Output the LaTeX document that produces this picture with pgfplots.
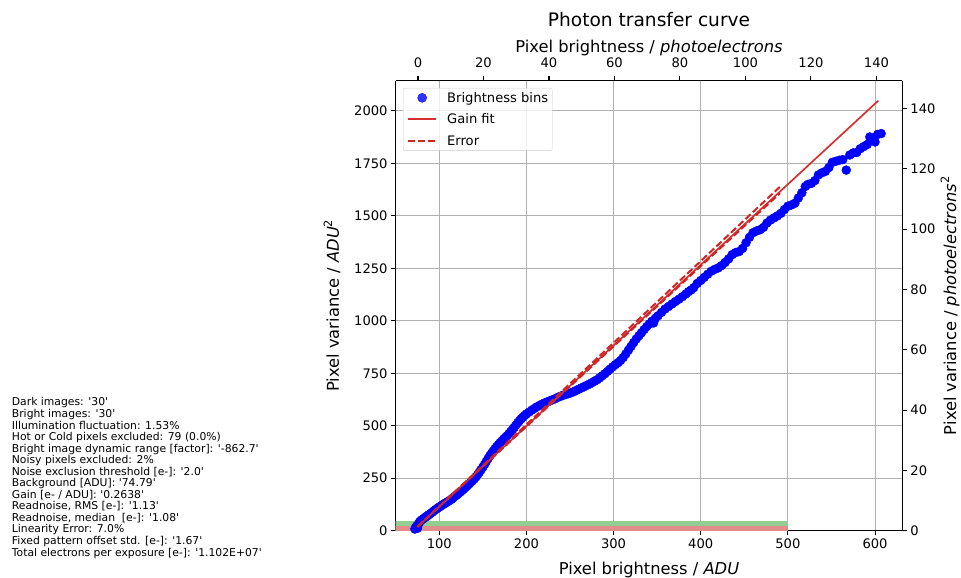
\documentclass[border=0pt]{standalone}
\usepackage{fontspec}
\setmainfont{DejaVu Sans}[Ligatures=TeXOff]
\usepackage{pgfplots}
\usepackage{pgfplotstable}
\pgfplotsset{compat=1.18}

\definecolor{binblue}{RGB}{0,0,255}
\definecolor{fitred}{RGB}{214,48,48}
\definecolor{errred}{RGB}{206,36,36}
\definecolor{gridgray}{RGB}{176,176,176}
\definecolor{bandgreen}{RGB}{146,206,146}
\definecolor{bandred}{RGB}{226,140,140}

\newcommand{\tickfont}{\fontsize{13.1}{15}\selectfont}
\newcommand{\labelfont}{\fontsize{16.3}{19}\selectfont}
\newcommand{\sq}[1]{\raisebox{0.42em}{\fontsize{11.4}{12}\selectfont #1}}

\pgfplotsset{
  dotlegend/.style={legend image code/.code={\fill[binblue] (14pt,0pt) circle[radius=4.5pt];}},
  fitlegend/.style={legend image code/.code={\draw[fitred, line width=2pt] (0pt,0.4pt) -- (28pt,0.4pt);}},
  errlegend/.style={legend image code/.code={\draw[errred, line width=2pt, dash pattern=on 7pt off 3pt] (0pt,0pt) -- (28pt,0pt);}},
}

% brightness bins: mean signal [ADU] and variance [ADU^2]
\pgfplotstableread{
adu var
72 8
73 15
74 22
75 12
76 30
77 38
78 45
80 52
82 58
84 64
86 70
88 76
90 82
92 88
94 95
96 101
98 107
100 113
102 118
104 124
106 129
108 134
110 139
112 144
114 150
116 157
118 164
120 170
122 177
124 184
126 191
128 198
130 206
132 214
134 222
136 230
138 238
140 246
142 256
144 267
146 279
148 291
150 303
152 316
154 330
156 344
158 357
160 369
162 380
164 391
166 401
168 411
170 420
172 428
174 437
176 445
178 453
180 462
182 472
184 482
186 492
188 503
190 514
192 524
194 533
196 541
198 549
200 556
203 565
206 574
209 582
212 590
215 597
218 603
221 609
224 614
227 619
230 624
233 629
236 635
239 640
242 645
245 649
248 653
251 657
254 662
257 668
260 674
263 680
266 686
269 692
272 698
275 705
278 712
281 719
284 728
287 738
290 748
293 759
296 770
299 781
302 791
305 800
308 811
311 825
314 842
317 860
320 878
323 896
326 913
329 928
332 943
335 958
338 972
341 985
344 998
346 990
348 1012
351 1024
355 1040
359 1056
363 1068
367 1080
371 1092
375 1103
379 1115
383 1128
386 1139
389 1147
392 1158
396 1178
400 1192
404 1207
408 1222
412 1236
416 1245
420 1252
424 1263
428 1278
432 1295
436 1315
440 1325
444 1330
448 1345
452 1372
456 1398
460 1420
464 1428
468 1434
472 1445
476 1466
480 1480
484 1490
488 1500
492 1512
496 1530
500 1546
504 1552
508 1560
512 1585
516 1610
520 1640
523 1650
527 1655
531 1668
535 1695
539 1705
543 1712
547 1730
551 1755
555 1760
559 1765
563 1768
567 1718
571 1790
575 1800
579 1802
583 1820
587 1830
591 1840
594 1876
597 1870
600 1852
603 1888
607 1892
}\bins

\begin{document}
\begin{tikzpicture}
\path[use as bounding box] (0pt,0pt) rectangle (961pt,578pt);

\begin{axis}[
  at={(395.7pt,47.3pt)}, anchor=south west,
  scale only axis, width=506.6pt, height=450pt,
  xmin=50, xmax=631.3, ymin=0, ymax=2144,
  clip mode=individual,
  axis x line*=bottom, axis y line*=left,
  xtick={100,200,...,600}, ytick={0,250,...,2000},
  grid=major, grid style={gridgray, line width=1.05pt},
  axis line style={black, line width=1.05pt},
  tick style={black, line width=1.05pt},
  tick align=outside, major tick length=4.6pt,
  ticklabel style={font=\tickfont},
  /pgf/number format/assume math mode=true,
  /pgf/number format/1000 sep={},
  xlabel={Pixel brightness / \textit{ADU}},
  ylabel={Pixel variance / \textit{ADU}\sq{2}},
  xlabel style={font=\labelfont, at={(axis description cs:0.5,-0.0969)}, anchor=base},
  ylabel style={font=\labelfont, at={(axis description cs:-0.112,0.5)}, anchor=base},
  legend style={at={(axis description cs:0.0144,0.984)}, anchor=north west,
    draw={rgb,255:red,204;green,204;blue,204}, rounded corners=2pt,
    fill=white, fill opacity=0.8, text opacity=1,
    font=\tickfont, inner xsep=4pt, inner ysep=3pt, row sep=8.3pt,
    nodes={inner xsep=0pt, inner ysep=1pt, anchor=west},
    /tikz/every odd column/.style={column sep=10pt}},
  legend cell align=left,
]
% detector reference bands
\addplot[draw=none, fill=bandgreen, forget plot] coordinates {(0,0) (500,0) (500,46) (0,46)} -- cycle;
\addplot[draw=none, fill=bandred, forget plot] coordinates {(0,0) (500,0) (500,24) (0,24)} -- cycle;

\addplot[only marks, mark=*, mark size=4.5pt, color=binblue, dotlegend]
  table[x=adu, y=var] {\bins};
\addlegendentry{Brightness bins}

\addplot[fitred, line width=1.7pt, fitlegend]
  coordinates {(74.79,18) (603.8,2049)};
\addlegendentry{Gain fit}

\addplot[errred, line width=2pt, dash pattern=on 7pt off 3pt, errlegend]
  coordinates {(74.79,18) (491,1639)};
\addlegendentry{Error}
\addplot[errred, line width=2pt, dash pattern=on 7pt off 3pt, forget plot]
  coordinates {(74.79,18) (491,1608)};
\end{axis}

% photoelectron scales (top and right)
\begin{axis}[
  at={(395.7pt,47.3pt)}, anchor=south west,
  scale only axis, width=506.6pt, height=450pt,
  xmin=-6.81, xmax=147.9, ymin=0, ymax=149.2,
  axis x line*=top, axis y line*=right,
  xtick={0,20,...,140}, ytick={0,20,...,140},
  axis line style={black, line width=1.05pt},
  tick style={black, line width=1.05pt},
  tick align=outside, major tick length=4.6pt,
  ticklabel style={font=\tickfont},
  xticklabel style={yshift=4.5pt},
  /pgf/number format/assume math mode=true,
  xlabel={Pixel brightness / \textit{photoelectrons}},
  ylabel={Pixel variance / \textit{photoelectrons}\sq{2}},
  xlabel style={font=\labelfont, at={(axis description cs:0.5,1.063)}, anchor=base},
  ylabel style={font=\labelfont, at={(axis description cs:1.106,0.5)}, anchor=base},
  title={Photon transfer curve},
  title style={font=\fontsize{18.6}{22}\selectfont, at={(axis description cs:0.5,1.108)}, anchor=base},
]
\addplot[draw=none, forget plot] coordinates {(0,0)};
\end{axis}

\node[anchor=north west, inner sep=0pt, align=left,
  font=\fontsize{10.8}{11.55}\selectfont] at (11.7pt,180.5pt) {%
Dark images: '30'\\
Bright images: '30'\\
Illumination fluctuation: 1.53\%\\
Hot or Cold pixels excluded: 79 (0.0\%)\\
Bright image dynamic range [factor]: '-862.7'\\
Noisy pixels excluded: 2\%\\
Noise exclusion threshold [e-]: '2.0'\\
Background [ADU]: '74.79'\\
Gain [e- / ADU]: '0.2638'\\
Readnoise, RMS [e-]: '1.13'\\
Readnoise, median\ \ [e-]: '1.08'\\
Linearity Error: 7.0\%\\
Fixed pattern offset std. [e-]: '1.67'\\
Total electrons per exposure [e-]: '1.102E+07'};
\end{tikzpicture}
\end{document}
